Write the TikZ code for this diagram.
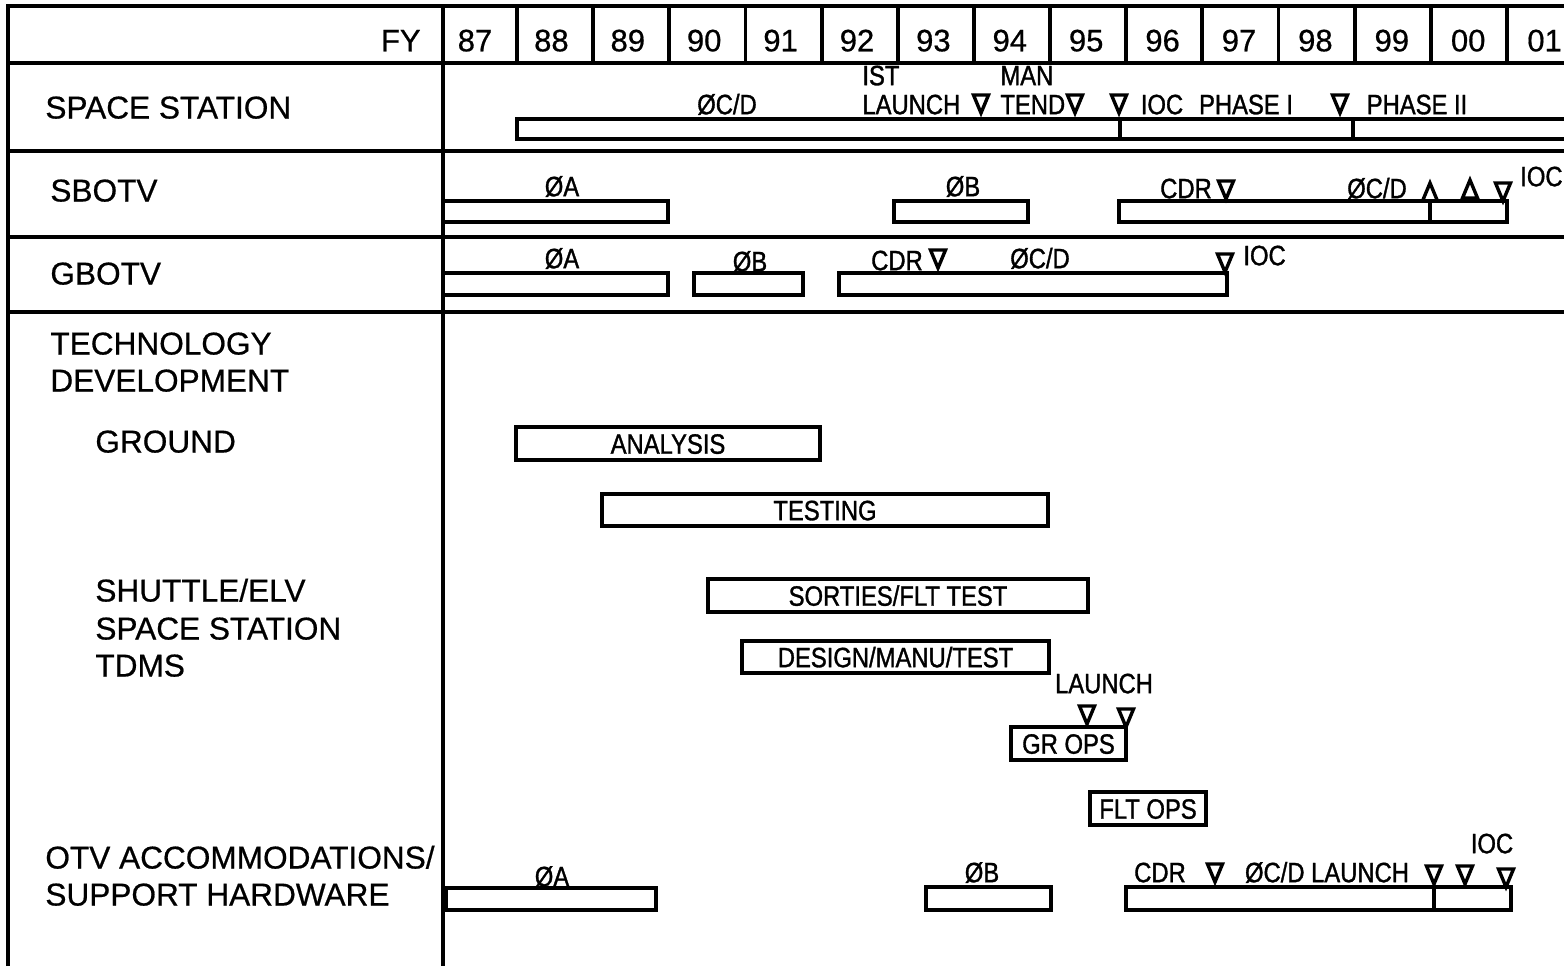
\documentclass[tikz,border=0pt]{standalone}
\usepackage{fontspec}
\setmainfont{Liberation Sans}[FakeBold=0.6]
\newfontfamily\narrowfont[FakeStretch=0.85,FakeBold=1.2]{Liberation Sans}
\usetikzlibrary{fit,positioning}

% open milestone triangles (tip / base at the given point)
\newcommand{\dtri}[2]{\draw[tri] ({#1-7.5},{#2-18}) -- ({#1+7.5},{#2-18}) -- (#1,#2) -- cycle;}
\newcommand{\utri}[2]{\draw[tri] ({#1-7.5},#2) -- ({#1+7.5},#2) -- (#1,{#2-18}) -- cycle;}

\begin{document}
\begin{tikzpicture}[
  x=0.5pt, y=-0.5pt,
  grid/.style={line width=1.9pt},
  bar/.style={rectangle, draw, line width=1.8pt, inner sep=0pt},
  rowlbl/.style={anchor=west, inner sep=0pt, font=\fontsize{15.8}{18}\selectfont, text height=11.5pt, text depth=0pt},
  yrlbl/.style={inner sep=0pt, font=\fontsize{15.5}{18}\selectfont, text height=11.3pt, text depth=0pt},
  tag/.style={inner sep=0pt, font=\narrowfont\fontsize{14}{16}\selectfont, text height=10.2pt, text depth=0pt},
  tri/.style={line width=1.7pt, line join=miter},
]
\useasboundingbox (0,0) rectangle (1564,966);
\fill[white] (0,0) rectangle (1564,966);

% Grid
\draw[grid] (8,966) -- (8,6) -- (1570,6);
\draw[grid] (443,6) -- (443,966);
\draw[grid] (8,63) -- (1570,63);
\draw[grid] (8,151) -- (1570,151);
\draw[grid] (8,237) -- (1570,237);
\draw[grid] (8,312) -- (1570,312);
\foreach \i in {0,...,13}
  \draw[grid] ({517+76.15*\i},6) -- ({517+76.15*\i},63);

% Years
\node[yrlbl, anchor=east] (fy) at (421,40) {FY};
\foreach \yr [count=\i from 0] in {87,88,89,90,91,92,93,94,95,96,97,98,99,00,01}
  \node[yrlbl] (fy\i) at ({475+76.4*\i},40) {\yr};

% Space station
\node[rowlbl] (ss) at (45,107) {SPACE STATION};
\node[bar, fit={(517,119)(1580,139)}] (ssbar) {};
\draw[grid] (1120,119) -- (1120,139);
\draw[grid] (1353,119) -- (1353,139);
\node[tag] (sscd) at (727,104) {ØC/D};
\node[tag, anchor=west] (ist) at (862,75) {IST};
\node[tag, anchor=west] (sslaunch) at (862,104) {LAUNCH};
\dtri{981}{113}
\node[tag, anchor=west] (man) at (1000,75) {MAN};
\node[tag, anchor=west] (tend) at (1000,104) {TEND};
\dtri{1075}{113}
\dtri{1119}{113}
\node[tag] (ssioc) at (1162,104) {IOC};
\node[tag] (phone) at (1246,104) {PHASE I};
\dtri{1340}{113}
\node[tag] (phtwo) at (1417,104) {PHASE II};

% SBOTV
\node[rowlbl] (sbotv) at (50,190) {SBOTV};
\node[bar, fit={(443,201)(668,222)}] (sba) {};
\node[tag] (sbalbl) at (562,186) {ØA};
\node[bar, fit={(894,201)(1028,222)}] (sbb) {};
\node[tag] (sbblbl) at (963,186) {ØB};
\node[bar, fit={(1119,201)(1507,222)}] (sbcd) {};
\draw[grid] (1430,201) -- (1430,222);
\node[tag] (sbcdr) at (1186,188) {CDR};
\dtri{1226}{199}
\node[tag] (sbcdlbl) at (1377,188) {ØC/D};
\utri{1430}{201}
\utri{1470}{198}
\dtri{1503}{201}
\node[tag, anchor=east] (sbioc) at (1563,176) {IOC};

% GBOTV
\node[rowlbl] (gbotv) at (50,273) {GBOTV};
\node[bar, fit={(443,273)(668,295)}] (gba) {};
\node[tag] (gbalbl) at (562,258) {ØA};
\node[bar, fit={(694,273)(803,295)}] (gbb) {};
\node[tag] (gbblbl) at (750,261) {ØB};
\node[bar, fit={(839,273)(1227,295)}] (gbcd) {};
\node[tag] (gbcdr) at (897,260) {CDR};
\dtri{938}{268}
\node[tag] (gbcdlbl) at (1040,258) {ØC/D};
\dtri{1225}{272}
\node[tag, anchor=west] (gbioc) at (1243,255) {IOC};

% Technology development
\node[rowlbl] (tech) at (50,343) {TECHNOLOGY};
\node[rowlbl] (dev) at (50,380) {DEVELOPMENT};
\node[rowlbl] (ground) at (95,441) {GROUND};
\node[rowlbl] (shuttle) at (95,590) {SHUTTLE/ELV};
\node[rowlbl] (station) at (95,628) {SPACE STATION};
\node[rowlbl] (tdms) at (95,665) {TDMS};
\node[bar, fit={(516,427)(820,460)}] (analysis) {};
\node[tag] (analysislbl) at (analysis.center) {ANALYSIS};
\node[bar, fit={(602,494)(1048,526)}] (testing) {};
\node[tag] (testinglbl) at (testing.center) {TESTING};
\node[bar, fit={(708,579)(1088,612)}] (sorties) {};
\node[tag] (sortieslbl) at (sorties.center) {SORTIES/FLT TEST};
\node[bar, fit={(742,641)(1049,673)}] (design) {};
\node[tag] (designlbl) at (design.center) {DESIGN/MANU/TEST};
\node[tag] (tdlaunch) at (1104,683) {LAUNCH};
\dtri{1087}{724}
\dtri{1126}{727}
\node[bar, fit={(1011,727)(1126,760)}] (grops) {};
\node[tag] (gropslbl) at (grops.center) {GR OPS};
\node[bar, fit={(1090,792)(1206,825)}] (fltops) {};
\node[tag] (fltopslbl) at (fltops.center) {FLT OPS};

% OTV accommodations
\node[rowlbl] (otv) at (45,857) {OTV ACCOMMODATIONS/};
\node[rowlbl] (support) at (45,894) {SUPPORT HARDWARE};
\node[bar, fit={(446,888)(656,910)}] (otva) {};
\node[tag] (otvalbl) at (552,876) {ØA};
\node[bar, fit={(926,887)(1051,910)}] (otvb) {};
\node[tag] (otvblbl) at (982,872) {ØB};
\node[bar, fit={(1126,887)(1511,910)}] (otvcd) {};
\draw[grid] (1434,887) -- (1434,910);
\node[tag] (otvcdr) at (1160,872) {CDR};
\dtri{1215}{882}
\node[tag] (otvcdlbl) at (1327,872) {ØC/D LAUNCH};
\dtri{1434}{884}
\dtri{1465}{884}
\dtri{1506}{887}
\node[tag] (otvioc) at (1492,843) {IOC};

\end{tikzpicture}
\end{document}
